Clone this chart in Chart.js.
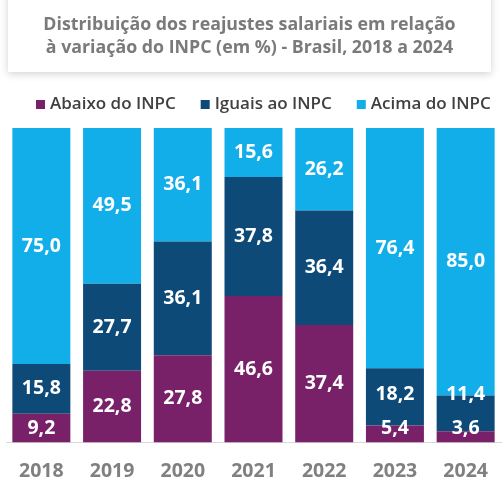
<!DOCTYPE html>
<html><head><meta charset="utf-8">
<script src="https://cdn.jsdelivr.net/npm/chart.js@4"></script>
<style>
html,body{margin:0;padding:0;background:#fff;width:504px;height:486px;overflow:hidden;}
#title{position:absolute;left:8px;top:-10px;width:483px;height:82px;background:#fff;box-shadow:0 2px 8px rgba(0,0,0,0.18);box-sizing:border-box;padding-top:22px;text-align:center;font-family:"Open Sans",sans-serif;font-weight:700;font-size:17.8px;line-height:23px;color:#7a7a7a;z-index:2;}
#wrap{position:absolute;left:0;top:0;width:504px;height:486px;}
</style></head>
<body>
<div id="title">Distribuição dos reajustes salariais em relação<br>à variação do INPC (em %) - Brasil, 2018 a 2024</div>
<div id="wrap"><canvas id="c" width="504" height="486"></canvas></div>
<script>
const categories = ["2018","2019","2020","2021","2022","2023","2024"];
const seriesNames = ["Abaixo do INPC","Iguais ao INPC","Acima do INPC"];
const abaixo = [9.2,22.8,27.8,46.6,37.4,5.4,3.6];
const iguais = [15.8,27.7,36.1,37.8,36.4,18.2,11.4];
const acima = [75.0,49.5,36.1,15.6,26.2,76.4,85.0];
const colors = ["#782068","#0d4a78","#12aee9"];

const labelPlugin = {
  id:'labels',
  afterDatasetsDraw(chart){
    const ctx = chart.ctx;
    const bottom = chart.chartArea.bottom;
    ctx.save();
    ctx.fillStyle = '#fff';
    ctx.font = 'bold 19.5px "Open Sans", sans-serif';
    ctx.textAlign = 'center';
    ctx.textBaseline = 'middle';
    const prev = {};
    chart.data.datasets.forEach((ds,i)=>{
      const meta = chart.getDatasetMeta(i);
      meta.data.forEach((el,j)=>{
        const v = ds.data[j];
        let y = (el.y + el.base)/2;
        if (y > bottom - 14) y = bottom - 14;
        if (prev[j] !== undefined && y > prev[j] - 34) y = prev[j] - 34;
        prev[j] = y;
        ctx.fillText(v.toFixed(1).replace('.',','), el.x, y);
      });
    });
    ctx.restore();
  }
};
const legendPlugin = {
  id:'customLegend',
  afterDraw(chart){
    const ctx = chart.ctx;
    ctx.save();
    ctx.font = '600 17px "Open Sans", sans-serif';
    ctx.textBaseline = 'middle';
    ctx.textAlign = 'left';
    let x = 36;
    const y = 104;
    chart.data.datasets.forEach(ds=>{
      ctx.fillStyle = ds.backgroundColor;
      ctx.fillRect(x, y-4, 9, 9);
      x += 14;
      ctx.fillStyle = '#404040';
      ctx.fillText(ds.label, x, y);
      x += ctx.measureText(ds.label).width + 25;
    });
    ctx.restore();
  }
};

new Chart(document.getElementById('c'),{
  type:'bar',
  data:{
    labels:categories,
    datasets:[
      {label:seriesNames[0],data:abaixo,backgroundColor:colors[0]},
      {label:seriesNames[1],data:iguais,backgroundColor:colors[1]},
      {label:seriesNames[2],data:acima,backgroundColor:colors[2]}
    ]
  },
  options:{
    responsive:false,
    animation:false,
    layout:{padding:{top:128,left:6,right:3,bottom:-6}},
    datasets:{bar:{categoryPercentage:0.82,barPercentage:1}},
    scales:{
      x:{stacked:true,grid:{display:false},border:{color:'#d8d8d8'},
         ticks:{color:'#808080',font:{family:'"Open Sans", sans-serif',size:19.5,weight:'bold'},padding:9}},
      y:{stacked:true,min:0,max:100,display:false}
    },
    plugins:{
      legend:{display:false},
      tooltip:{enabled:false}
    }
  },
  plugins:[labelPlugin, legendPlugin]
});
</script>
</body></html>
